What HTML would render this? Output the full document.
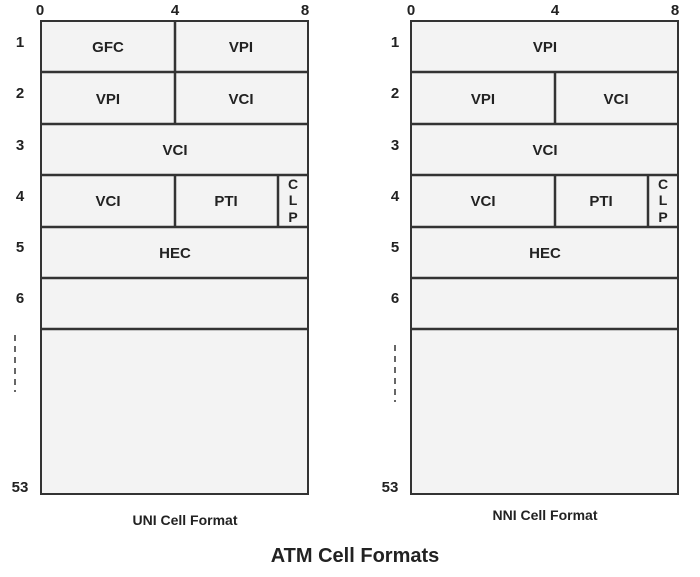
<!DOCTYPE html>
<html><head><style>body{margin:0;background:#fff}svg{display:block}</style></head><body>
<svg width="700" height="577" xmlns="http://www.w3.org/2000/svg" font-family="Liberation Sans, Arial, sans-serif" font-weight="bold">
<g stroke="#333" stroke-width="2" fill="#f3f3f3">
<rect x="41" y="21" width="267" height="473"/>
<rect x="411" y="21" width="267" height="473"/>
</g>
<g stroke="#333" stroke-width="2.5">
<line x1="41" y1="72" x2="308" y2="72"/><line x1="41" y1="124" x2="308" y2="124"/>
<line x1="41" y1="175" x2="308" y2="175"/><line x1="41" y1="227" x2="308" y2="227"/>
<line x1="41" y1="278" x2="308" y2="278"/><line x1="41" y1="329" x2="308" y2="329"/>
<line x1="175" y1="21" x2="175" y2="124"/><line x1="175" y1="175" x2="175" y2="227"/>
<line x1="278" y1="175" x2="278" y2="227"/>
<line x1="411" y1="72" x2="678" y2="72"/><line x1="411" y1="124" x2="678" y2="124"/>
<line x1="411" y1="175" x2="678" y2="175"/><line x1="411" y1="227" x2="678" y2="227"/>
<line x1="411" y1="278" x2="678" y2="278"/><line x1="411" y1="329" x2="678" y2="329"/>
<line x1="555" y1="72" x2="555" y2="124"/><line x1="555" y1="175" x2="555" y2="227"/>
<line x1="648" y1="175" x2="648" y2="227"/>
</g>
<g stroke="#333" stroke-width="1.5" stroke-dasharray="6,5">
<line x1="15" y1="335" x2="15" y2="392"/><line x1="395" y1="345" x2="395" y2="402"/>
</g>
<g font-size="15" fill="#222" text-anchor="middle">
<text x="108" y="52">GFC</text><text x="241" y="52">VPI</text>
<text x="108" y="104">VPI</text><text x="241" y="104">VCI</text>
<text x="175" y="155">VCI</text>
<text x="108" y="206">VCI</text><text x="226" y="206">PTI</text>
<text x="175" y="258">HEC</text>
<text x="545" y="52">VPI</text>
<text x="483" y="104">VPI</text><text x="616" y="104">VCI</text>
<text x="545" y="155">VCI</text>
<text x="483" y="206">VCI</text><text x="601" y="206">PTI</text>
<text x="545" y="258">HEC</text>
<g font-size="14"><text x="293" y="189">C</text><text x="293" y="205">L</text><text x="293" y="222">P</text>
<text x="663" y="189">C</text><text x="663" y="205">L</text><text x="663" y="222">P</text></g>
</g>
<g font-size="15" fill="#222" text-anchor="middle">
<text x="40" y="15">0</text><text x="175" y="15">4</text><text x="305" y="15">8</text>
<text x="411" y="15">0</text><text x="555" y="15">4</text><text x="675" y="15">8</text>
<text x="20" y="47">1</text><text x="20" y="98">2</text><text x="20" y="150">3</text><text x="20" y="201">4</text><text x="20" y="252">5</text><text x="20" y="303">6</text><text x="20" y="492">53</text>
<text x="395" y="47">1</text><text x="395" y="98">2</text><text x="395" y="150">3</text><text x="395" y="201">4</text><text x="395" y="252">5</text><text x="395" y="303">6</text><text x="390" y="492">53</text>
</g>
<g fill="#222" text-anchor="middle">
<text x="185" y="525" font-size="14">UNI Cell Format</text>
<text x="545" y="520" font-size="14">NNI Cell Format</text>
<text x="355" y="562" font-size="20">ATM Cell Formats</text>
</g>
</svg>
</body></html>
